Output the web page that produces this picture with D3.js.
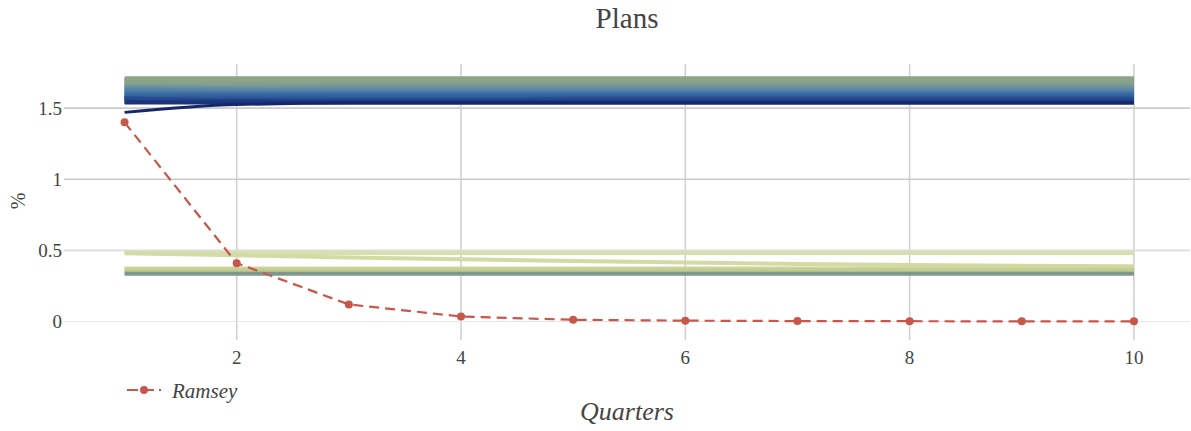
<!DOCTYPE html>
<html>
<head>
<meta charset="utf-8">
<script src="https://cdn.jsdelivr.net/npm/d3@7"></script>
<style>
html,body{margin:0;padding:0;background:#fff;}
svg{display:block;}
text{font-family:"Liberation Serif","DejaVu Serif",serif;fill:#444;}
</style>
</head>
<body>
<svg id="chart" width="1191" height="431"></svg>
<script>
// ---------------- data ----------------
const quarters = [1,2,3,4,5,6,7,8,9,10];
const xTicks = [2,4,6,8,10];
const yTicks = [0,0.5,1,1.5];
const yTickLabels = ["0","0.5","1","1.5"];
const ramsey = [1.40,0.41,0.12,0.035,0.012,0.006,0.003,0.002,0.001,0.001];

// upper band of plans (top = green-grey, bottom = navy)
const plansHigh = [
  [1.71,1.71,1.71,1.71,1.71,1.71,1.71,1.71,1.71,1.71],
  [1.70,1.70,1.70,1.70,1.70,1.70,1.70,1.70,1.70,1.70],
  [1.69,1.69,1.69,1.69,1.69,1.69,1.69,1.69,1.69,1.69],
  [1.68,1.68,1.68,1.68,1.68,1.68,1.68,1.68,1.68,1.68],
  [1.67,1.675,1.675,1.675,1.675,1.675,1.675,1.675,1.675,1.675],
  [1.66,1.665,1.665,1.665,1.665,1.665,1.665,1.665,1.665,1.665],
  [1.56,1.645,1.655,1.655,1.655,1.655,1.655,1.655,1.655,1.655],
  [1.65,1.645,1.645,1.645,1.645,1.645,1.645,1.645,1.645,1.645],
  [1.64,1.635,1.635,1.635,1.635,1.635,1.635,1.635,1.635,1.635],
  [1.63,1.625,1.625,1.625,1.625,1.625,1.625,1.625,1.625,1.625],
  [1.62,1.615,1.615,1.615,1.615,1.615,1.615,1.615,1.615,1.615],
  [1.61,1.605,1.605,1.605,1.605,1.605,1.605,1.605,1.605,1.605],
  [1.60,1.60,1.60,1.60,1.60,1.60,1.60,1.60,1.60,1.60],
  [1.59,1.59,1.59,1.59,1.59,1.59,1.59,1.59,1.59,1.59],
  [1.58,1.585,1.585,1.585,1.585,1.585,1.585,1.585,1.585,1.585],
  [1.57,1.575,1.575,1.575,1.575,1.575,1.575,1.575,1.575,1.575],
  [1.565,1.565,1.565,1.565,1.555,1.555,1.555,1.555,1.555,1.555],
  [1.57,1.555,1.555,1.555,1.565,1.565,1.565,1.565,1.565,1.565],
  [1.545,1.55,1.548,1.548,1.548,1.548,1.548,1.548,1.548,1.548],
  [1.54,1.54,1.54,1.54,1.54,1.54,1.54,1.54,1.54,1.54],
  [1.47,1.525,1.535,1.535,1.535,1.535,1.535,1.535,1.535,1.535]
];

// lower band of plans
const plansLow = [
  [0.482,0.482,0.482,0.482,0.482,0.482,0.482,0.482,0.482,0.482],
  [0.48,0.465,0.45,0.437,0.425,0.415,0.405,0.398,0.392,0.388],
  [0.372,0.372,0.372,0.372,0.372,0.372,0.372,0.372,0.372,0.372],
  [0.362,0.362,0.362,0.362,0.362,0.362,0.362,0.362,0.362,0.362],
  [0.352,0.352,0.352,0.352,0.352,0.352,0.352,0.352,0.352,0.352],
  [0.336,0.336,0.336,0.336,0.336,0.336,0.336,0.336,0.336,0.336]
];

// ---------------- chart ----------------
const svg = d3.select("#chart");
const plot = {left:64, right:1190, top:64, bottom:340};

const x = d3.scaleLinear().domain([0.46,10.5]).range([plot.left, plot.right]);
const y = d3.scaleLinear().domain([-0.13,1.81]).range([plot.bottom, plot.top]);

// colours
const highColor = d3.scaleLinear()
  .domain([0,0.22,0.38,0.5,0.62,0.78,0.9,1])
  .range(["#8fa686","#88a289","#6d91a0","#5282a8","#3f6ea6","#2f5b98","#21428a","#14276a"])
  .interpolate(d3.interpolateRgb);
const lowColors = ["#d7dfaa","#d3dba4","#cdd59c","#c6d095","#bfca8f","#7f978d"];

// grid
svg.append("g").selectAll("line").data(xTicks).join("line")
  .attr("x1", d=>x(d)).attr("x2", d=>x(d))
  .attr("y1", plot.top).attr("y2", plot.bottom)
  .attr("stroke","#d2d2d2").attr("stroke-width",1.6);

svg.append("g").selectAll("line").data(yTicks).join("line")
  .attr("x1", plot.left).attr("x2", plot.right)
  .attr("y1", d=>y(d)).attr("y2", d=>y(d))
  .attr("stroke", d=> d===0 ? "#e6e6e6" : (d===0.5 ? "#dcdcdc" : "#cbcbcb"))
  .attr("stroke-width", d=> d===0 ? 1.2 : 1.6);

// axes labels
svg.append("g").selectAll("text").data(xTicks).join("text")
  .attr("x", d=>x(d)).attr("y", 364)
  .attr("text-anchor","middle").attr("font-size",19)
  .text(d=>d);

svg.append("g").selectAll("text").data(yTicks).join("text")
  .attr("x", 62).attr("y", d=>y(d)+6.5)
  .attr("text-anchor","end").attr("font-size",19)
  .text((d,i)=>yTickLabels[i]);

const line = d3.line().x((d,i)=>x(quarters[i])).y(d=>y(d)).curve(d3.curveMonotoneX);

// plan lines
const gPlans = svg.append("g");
plansLow.forEach((s,i)=>{
  gPlans.append("path").attr("d", line(s)).attr("fill","none")
    .attr("stroke", lowColors[i]).attr("stroke-width",4).attr("stroke-linejoin","round");
});
plansHigh.forEach((s,i)=>{
  gPlans.append("path").attr("d", line(s)).attr("fill","none")
    .attr("stroke", highColor(i/(plansHigh.length-1)))
    .attr("stroke-width", i===plansHigh.length-1 ? 3 : 4)
    .attr("stroke-linejoin","round");
});

// Ramsey
const red = "#c8574b";
svg.append("path")
  .attr("d", d3.line().x((d,i)=>x(quarters[i])).y(d=>y(d))(ramsey))
  .attr("fill","none").attr("stroke",red).attr("stroke-width",2.2)
  .attr("stroke-dasharray","10,6");
svg.append("g").selectAll("circle").data(ramsey).join("circle")
  .attr("cx",(d,i)=>x(quarters[i])).attr("cy",d=>y(d)).attr("r",4)
  .attr("fill",red);

// titles
svg.append("text").attr("x", (plot.left+plot.right)/2).attr("y", 28)
  .attr("text-anchor","middle").attr("font-size",29).text("Plans");
svg.append("text").attr("x", (plot.left+plot.right)/2).attr("y", 420)
  .attr("text-anchor","middle").attr("font-size",26).attr("font-style","italic").text("Quarters");
svg.append("text").attr("transform","translate(25,201) rotate(-90)")
  .attr("text-anchor","middle").attr("font-size",20).text("%");

// legend
const lg = svg.append("g").attr("transform","translate(127,390)");
lg.append("line").attr("x1",0).attr("x2",34).attr("y1",0).attr("y2",0)
  .attr("stroke",red).attr("stroke-width",2.2).attr("stroke-dasharray","11,5");
lg.append("circle").attr("cx",17).attr("cy",0).attr("r",4).attr("fill",red);
lg.append("text").attr("x",45).attr("y",8).attr("font-size",21)
  .attr("font-style","italic").text("Ramsey");
</script>
</body>
</html>
